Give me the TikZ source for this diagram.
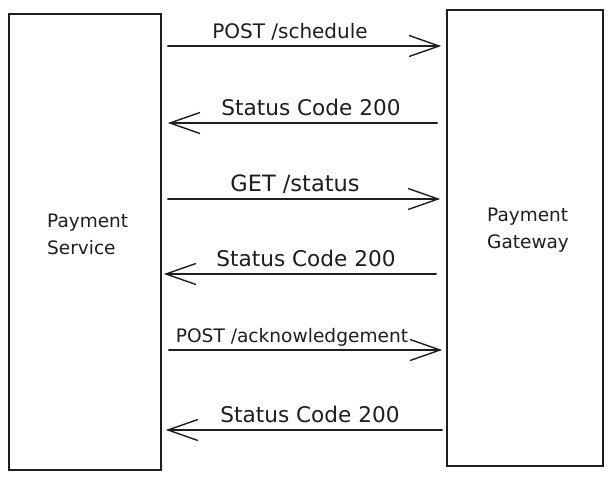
\documentclass[tikz,border=0pt]{standalone}
\usepackage{fontspec}
\setmainfont{DejaVu Sans}
\usetikzlibrary{arrows.meta}
\definecolor{ink}{HTML}{1E1E1E}
\tikzset{
  boxshape/.style={draw=ink, line width=1.6pt, rectangle, inner sep=0pt},
  boxlabel/.style={text=ink, align=left, inner sep=0pt, anchor=west,
    font=\fontsize{18.5}{27}\selectfont},
  msglabel/.style={text=ink, inner sep=0pt, anchor=base,
    font=\fontsize{21}{25}\selectfont},
  msg/.style={draw=ink, line width=1.4pt, line cap=round,
    -{Straight Barb[length=30pt,width=21pt,line width=1.4pt]}},
}
\begin{document}
\begin{tikzpicture}[x=1pt,y=-1pt]
\useasboundingbox (0,0) rectangle (609,481);
% boxes
\node[boxshape, minimum width=152pt, minimum height=456pt] (svc) at (85,242) {};
\node[boxshape, minimum width=156pt, minimum height=456pt] (gw) at (525,238) {};
\node[boxlabel] (svclbl) at (47,234) {Payment\\Service};
\node[boxlabel] (gwlbl) at (487,230) {Payment\\Gateway};
% messages
\draw[msg, shorten <=6pt, shorten >=5pt] (svc.east |- 0,46) -- (gw.west |- 0,46);
\node[msglabel, font=\fontsize{20}{24}\selectfont] (m1) at (290,39) {POST /schedule};
\draw[msg, shorten <=9pt, shorten >=6pt] (gw.west |- 0,123) -- (svc.east |- 0,123);
\node[msglabel, font=\fontsize{21.6}{25}\selectfont] (m2) at (311,116) {Status Code 200};
\draw[msg, shorten <=6pt, shorten >=6pt] (svc.east |- 0,199) -- (gw.west |- 0,199);
\node[msglabel, font=\fontsize{22.5}{26}\selectfont] (m3) at (295,191) {GET /status};
\draw[msg, shorten <=10pt, shorten >=2pt] (gw.west |- 0,274) -- (svc.east |- 0,274);
\node[msglabel, font=\fontsize{21.6}{25}\selectfont] (m4) at (306,266) {Status Code 200};
\draw[msg, shorten <=7pt, shorten >=4pt] (svc.east |- 0,350) -- (gw.west |- 0,350);
\node[msglabel, font=\fontsize{18.6}{22}\selectfont] (m5) at (292,342) {POST /acknowledgement};
\draw[msg, shorten <=4pt, shorten >=4pt] (gw.west |- 0,430) -- (svc.east |- 0,430);
\node[msglabel, font=\fontsize{21.6}{25}\selectfont] (m6) at (310,422) {Status Code 200};
\end{tikzpicture}
\end{document}
